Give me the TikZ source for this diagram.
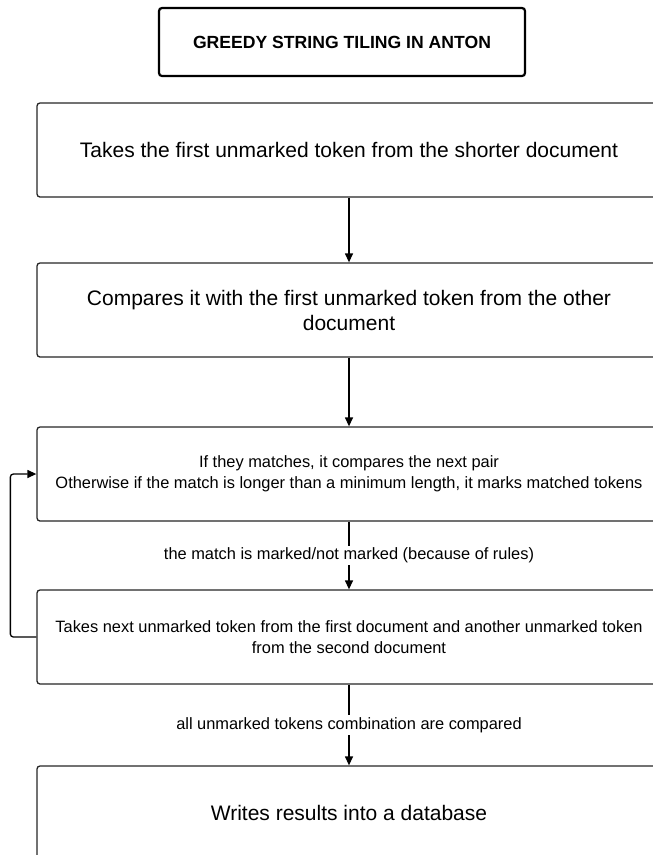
\documentclass[tikz,border=0pt]{standalone}
\usepackage{fontspec}
\setmainfont{Liberation Sans}
\usetikzlibrary{arrows.meta}
\begin{document}
\begin{tikzpicture}[x=1pt,y=-1pt,
  box/.style={draw=black!85,line width=1.3pt,rounded corners=3pt,minimum width=624pt,minimum height=94pt,inner sep=0pt,align=center,fill=white},
  titlebox/.style={draw=black,line width=2.2pt,rounded corners=3pt,minimum width=366pt,minimum height=68pt,inner sep=0pt,align=center},
  big/.style={font=\fontsize{21}{25}\selectfont},
  small/.style={font=\fontsize{16.4}{21.5}\selectfont},
  lbl/.style={font=\fontsize{16.4}{18}\selectfont,fill=white,inner sep=2pt},
  arr/.style={draw=black,line width=1.3pt,-{Triangle[length=9pt,width=8pt]}}
]
\useasboundingbox (0,0) rectangle (653,855);
\clip (0,0) rectangle (653,855);
\node[titlebox,font=\fontsize{17.6}{20}\selectfont\bfseries] (t) at (342,42) {GREEDY STRING TILING IN ANTON};
\node[box,big] (b1) at (349,150) {Takes the first unmarked token from the shorter document};
\node[box,big] (b2) at (349,310) {Compares it with the first unmarked token from the other\\document};
\node[box,small] (b3) at (349,474) {If they matches, it compares the next pair\\Otherwise if the match is longer than a minimum length, it marks matched tokens};
\node[box,small] (b4) at (349,637) {Takes next unmarked token from the first document and another unmarked token\\from the second document};
\node[box,big] (b5) at (349,813) {Writes results into a database};
\draw[arr] (b1) -- (b2);
\draw[arr] (b2) -- (b3);
\draw[arr] (b3) -- node[lbl] (l1) {the match is marked/not marked (because of rules)} (b4);
\draw[arr] (b4) -- node[lbl] (l2) {all unmarked tokens combination are compared} (b5);
\draw[arr,rounded corners=3pt] (b4.west) -- ++(-26,0) |- (b3.west);
\end{tikzpicture}
\end{document}
